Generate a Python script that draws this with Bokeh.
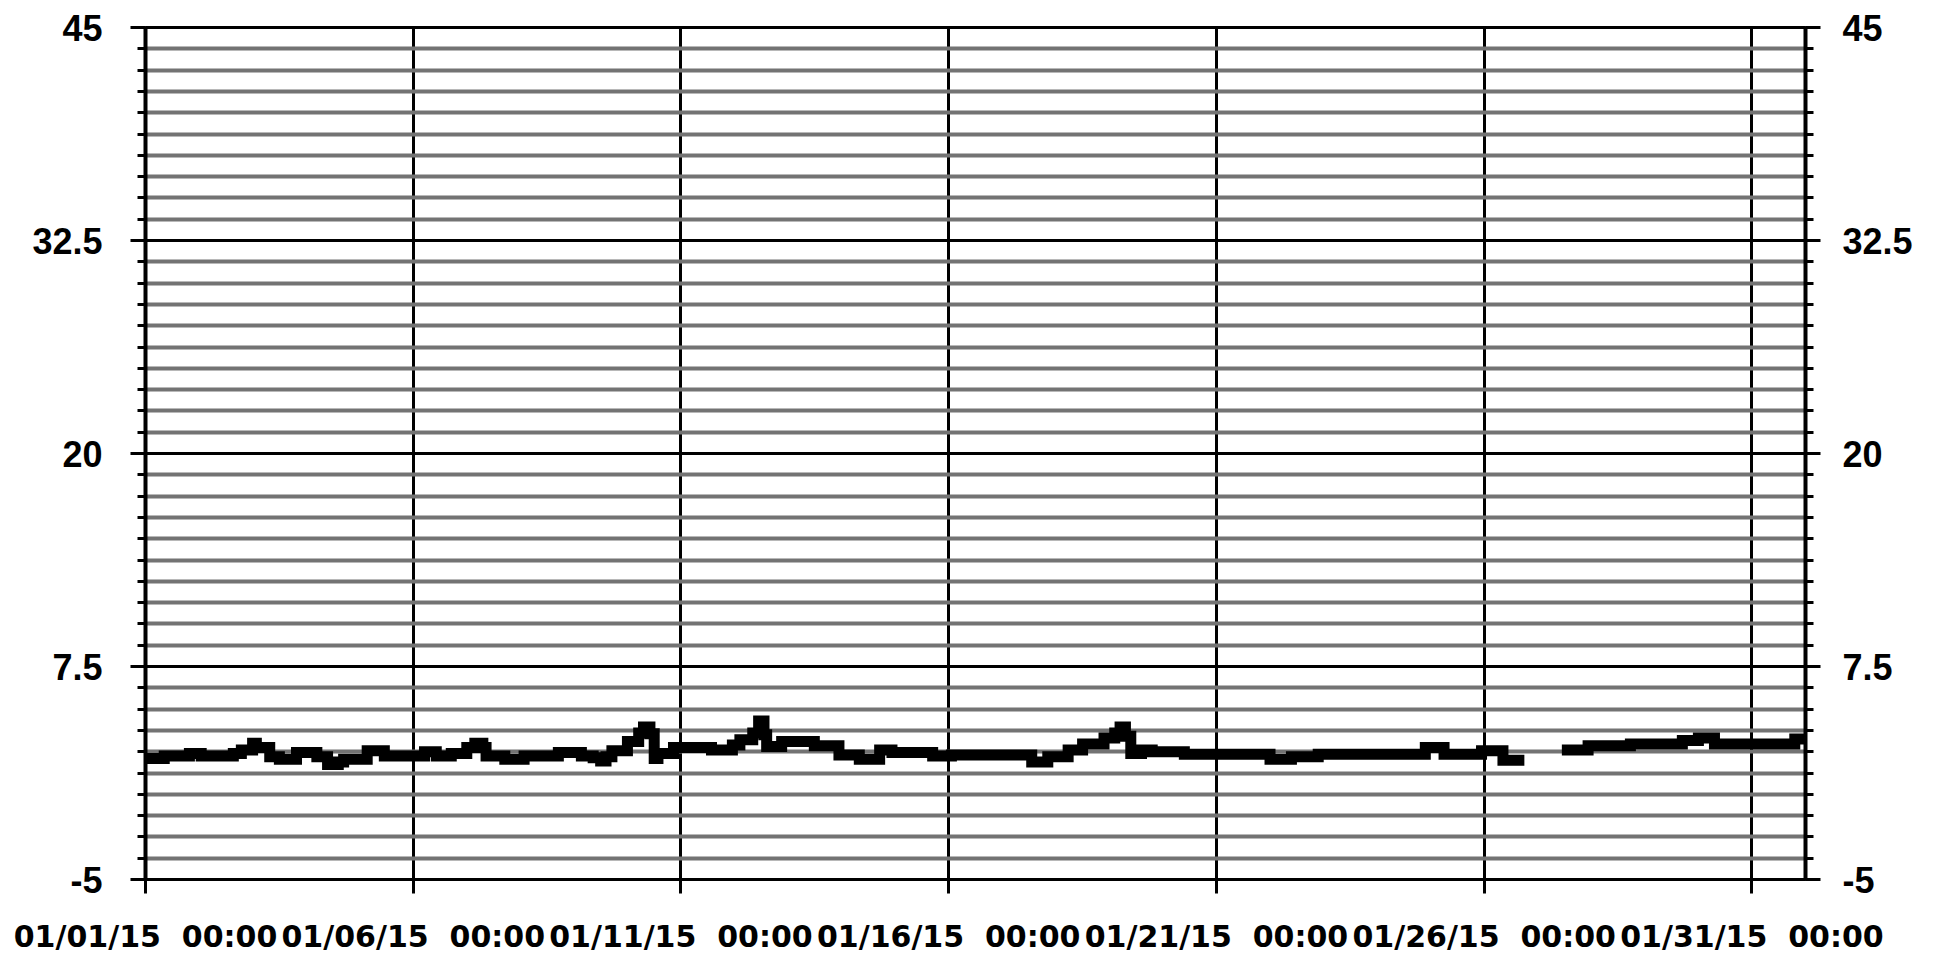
from datetime import datetime, timedelta
import math

from bokeh.plotting import figure
from bokeh.models import Range1d, LinearAxis, FixedTicker, DatetimeTickFormatter
from bokeh.embed import file_html
from bokeh.resources import INLINE

# ---------------- data ----------------
start_date = datetime(2015, 1, 1)
end_date = datetime(2015, 2, 1)

# time of each step, in days after 01/01/15 00:00, and the temperature held from it
day_offsets = [0.0, 0.35, 0.82, 1.04, 1.64, 1.79, 2.0, 2.07, 2.32, 2.5,
               2.82, 3.2, 3.4, 3.6, 3.7, 4.14, 4.46, 5.0, 5.21, 5.43,
               5.71, 6.0, 6.15, 6.3, 6.36, 6.71, 7.07, 7.71, 8.14, 8.36,
               8.5, 8.6, 8.71, 9.0, 9.21, 9.3, 9.42, 9.5, 9.57, 9.86,
               10.57, 10.96, 11.1, 11.34, 11.45, 11.55, 11.6, 11.88, 12.49, 12.95,
               13.33, 13.71, 13.94, 14.7, 15.05, 16.55, 16.85, 17.23, 17.5, 17.9,
               18.1, 18.2, 18.3, 18.4, 18.6, 18.8, 19.4, 21.0, 21.4, 21.9,
               23.9, 24.25, 24.95, 25.35, 25.75, 26.45, 26.94, 27.73, 28.7, 29.0,
               29.3, 30.8, 31.0]
temps = [2.1, 2.25, 2.4, 2.25, 2.4, 2.6, 3.0, 2.75, 2.2, 2.05,
         2.45, 2.2, 1.75, 1.9, 2.05, 2.55, 2.25, 2.25, 2.5, 2.25,
         2.4, 2.75, 3.0, 2.75, 2.25, 2.05, 2.25, 2.45, 2.25, 2.15,
         1.95, 2.2, 2.55, 3.1, 3.6, 3.95, 3.55, 2.1, 2.4, 2.75,
         2.6, 2.9, 3.2, 3.6, 4.3, 3.5, 2.8, 3.1, 2.85, 2.3,
         2.05, 2.6, 2.45, 2.25, 2.3, 1.9, 2.2, 2.6, 2.95, 3.3,
         3.6, 3.95, 3.4, 2.4, 2.6, 2.5, 2.35, 2.05, 2.2, 2.35,
         2.75, 2.35, 2.55, 2.0, float("nan"), 2.6, 2.85, 2.95, 3.15, 3.3,
         2.95, 3.25, 3.25]

y_ticks = [-5, 7.5, 20, 32.5, 45]
y_tick_labels = ["-5", "7.5", "20", "32.5", "45"]
y_minor_step = 1.25
x_tick_days = [0, 5, 10, 15, 20, 25, 30]
x_label_format = "%m/%d/%y\u00a0\u00a0%H:%M"

# ---------------- figure ----------------
p = figure(
    frame_width=1660, frame_height=852,
    min_border_left=145, min_border_right=130, min_border_top=27, min_border_bottom=81,
    x_axis_type="datetime",
    x_range=Range1d(start_date, end_date), y_range=Range1d(y_ticks[0], y_ticks[-1]),
    output_backend="svg", toolbar_location=None,
    background_fill_color="white", border_fill_color="white",
)
p.outline_line_color = "black"
p.outline_line_width = 3

n_minor = int(round((y_ticks[-1] - y_ticks[0]) / y_minor_step))
minor_vals = [y_ticks[0] + i * y_minor_step for i in range(n_minor + 1)]
minor_vals = [v for v in minor_vals if all(abs(v - t) > 1e-9 for t in y_ticks)]
yticker = FixedTicker(ticks=y_ticks, minor_ticks=minor_vals)

x_ticks_ms = [(start_date + timedelta(days=d) - datetime(1970, 1, 1)).total_seconds() * 1000.0
              for d in x_tick_days]
xticker = FixedTicker(ticks=x_ticks_ms, minor_ticks=[])

# grids
p.ygrid.ticker = yticker
p.ygrid.grid_line_color = "black"
p.ygrid.grid_line_width = 3
p.ygrid.minor_grid_line_color = "#737373"
p.ygrid.minor_grid_line_width = 4

p.xgrid.ticker = xticker
p.xgrid.grid_line_color = "black"
p.xgrid.grid_line_width = 3

# y axes (left and right)
right_axis = LinearAxis()
p.add_layout(right_axis, "right")
for ax, standoff in ((p.yaxis[0], 28), (right_axis, 22)):
    ax.ticker = yticker
    ax.major_label_overrides = {t: s for t, s in zip(y_ticks, y_tick_labels)}
    ax.axis_line_color = "black"
    ax.axis_line_width = 4
    ax.major_tick_line_color = "black"
    ax.major_tick_line_width = 3
    ax.major_tick_in = 0
    ax.major_tick_out = 15
    ax.minor_tick_line_color = "black"
    ax.minor_tick_line_width = 3
    ax.minor_tick_in = 0
    ax.minor_tick_out = 8
    ax.major_label_text_font = "Liberation Sans"
    ax.major_label_text_font_style = "bold"
    ax.major_label_text_font_size = "36px"
    ax.major_label_text_color = "black"
    ax.major_label_standoff = standoff

# x axis
fmt = x_label_format
xa = p.xaxis[0]
xa.ticker = xticker
xa.formatter = DatetimeTickFormatter(milliseconds=fmt, seconds=fmt, minsec=fmt, minutes=fmt,
                                     hourmin=fmt, hours=fmt, days=fmt, months=fmt, years=fmt)
xa.axis_line_color = "black"
xa.axis_line_width = 3
xa.major_tick_line_color = "black"
xa.major_tick_line_width = 3
xa.major_tick_in = 0
xa.major_tick_out = 14
xa.minor_tick_line_color = None
xa.major_label_text_font = "DejaVu Sans"
xa.major_label_text_font_style = "bold"
xa.major_label_text_font_size = "30px"
xa.major_label_text_color = "black"
xa.major_label_standoff = 25

# ---------------- data line (step, broken at the gap) ----------------
segments = []
cur_x, cur_y = [], []
for d, v in zip(day_offsets, temps):
    t = start_date + timedelta(days=d)
    if isinstance(v, float) and math.isnan(v):
        if cur_x:
            cur_x.append(t)
            cur_y.append(cur_y[-1])
            segments.append((cur_x, cur_y))
        cur_x, cur_y = [], []
    else:
        cur_x.append(t)
        cur_y.append(v)
if cur_x:
    segments.append((cur_x, cur_y))

for sx, sy in segments:
    p.step(sx, sy, mode="after", line_color="black", line_width=11,
           line_join="miter", line_cap="butt")

open("out.html", "w").write(file_html(p, INLINE))
